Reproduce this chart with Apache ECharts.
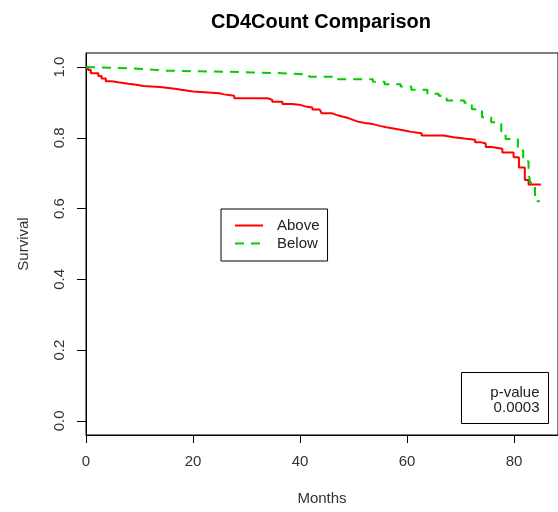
<!DOCTYPE html>
<html>
<head>
<meta charset="utf-8">
<script src="https://cdn.jsdelivr.net/npm/echarts@6/dist/echarts.min.js"></script>
<style>html,body{margin:0;padding:0;background:#fff}#c{width:558px;height:512px}</style>
</head>
<body>
<div id="c"></div>
<script>
const FONT = '"Liberation Sans", Arial, sans-serif';
const titleText = 'CD4Count Comparison';
const seriesNames = ['Above', 'Below'];
const xTicks = [0, 20, 40, 60, 80];
const yTicks = [0, 0.2, 0.4, 0.6, 0.8, 1.0];
const pValueText = ['p-value', '0.0003'];

const timesAbove = [0, 0.4, 0.9, 2.3, 2.9, 3.7, 4.8, 6.0, 7.9, 9.4, 10.7, 13.8, 16.6, 17.8, 20.0, 24.9, 25.8, 27.7, 33.9, 34.8, 36.7, 38.5, 39.8, 41.0, 42.3, 43.7, 44.0, 45.9, 46.8, 47.7, 49.0, 49.9, 50.8, 52.1, 53.6, 54.9, 56.1, 57.7, 59.5, 60.8, 62.7, 66.8, 68.7, 70.7, 72.7, 73.7, 74.7, 75.8, 77.8, 79.9, 80.9, 82.0, 82.7, 85.0];
const survAbove  = [1.0, 0.992, 0.983, 0.975, 0.968, 0.960, 0.957, 0.953, 0.950, 0.947, 0.944, 0.939, 0.936, 0.931, 0.926, 0.923, 0.919, 0.912, 0.908, 0.902, 0.896, 0.894, 0.889, 0.886, 0.880, 0.875, 0.870, 0.865, 0.861, 0.856, 0.851, 0.846, 0.842, 0.839, 0.834, 0.830, 0.826, 0.821, 0.817, 0.813, 0.807, 0.802, 0.798, 0.795, 0.788, 0.784, 0.774, 0.769, 0.759, 0.745, 0.716, 0.681, 0.668, 0.668];

const timesBelow = [0, 1.5, 9.0, 12.5, 14.5, 26.4, 31.0, 36.6, 41.7, 46.0, 53.6, 55.8, 58.8, 60.8, 63.8, 65.9, 67.4, 70.7, 72.1, 74.0, 75.7, 77.6, 78.4, 80.7, 81.7, 82.7, 83.0, 83.9, 84.8];
const survBelow  = [1.0, 0.996, 0.993, 0.990, 0.987, 0.985, 0.983, 0.979, 0.973, 0.966, 0.959, 0.952, 0.945, 0.936, 0.925, 0.919, 0.906, 0.899, 0.881, 0.858, 0.844, 0.818, 0.797, 0.764, 0.734, 0.705, 0.673, 0.621, 0.621];

const chart = echarts.init(document.getElementById('c'), null, {renderer: 'canvas'});
const axisTextColor = '#333';
chart.setOption({
  animation: false,
  backgroundColor: '#fff',
  title: {
    text: titleText, left: 316, top: 7, textAlign: 'center',
    textStyle: {fontFamily: FONT, fontWeight: 'bold', fontSize: 20, color: '#000'}
  },
  grid: {left: 86, top: 53, right: -1, bottom: 77, show: true, borderColor: '#000', borderWidth: 1, containLabel: false},
  legend: {
    orient: 'vertical', left: 221, top: 209,
    padding: [9, 8, 10, 13], itemWidth: 28, itemHeight: 14, itemGap: 3,
    borderColor: '#000', borderWidth: 1, backgroundColor: '#fff',
    itemStyle: {opacity: 0},
    textStyle: {fontFamily: FONT, fontSize: 15, color: '#222', padding: [0, 0, 0, 9]},
    data: seriesNames
  },
  xAxis: {
    type: 'value', min: 0, max: 88.2,
    name: 'Months', nameLocation: 'middle', nameGap: 56,
    nameTextStyle: {fontFamily: FONT, fontSize: 15, color: axisTextColor},
    axisLine: {show: true, onZero: false, lineStyle: {color: '#000', width: 1}},
    axisTick: {show: true, inside: false, length: 8, customValues: xTicks, lineStyle: {color: '#000'}},
    axisLabel: {customValues: xTicks, margin: 19, fontFamily: FONT, fontSize: 15, color: axisTextColor},
    splitLine: {show: false}
  },
  yAxis: {
    type: 'value', min: -0.04, max: 1.04,
    name: 'Survival', nameLocation: 'middle', nameGap: 55,
    nameTextStyle: {fontFamily: FONT, fontSize: 15, color: axisTextColor},
    axisLine: {show: true, onZero: false, lineStyle: {color: '#000', width: 1}},
    axisTick: {show: true, inside: false, length: 9, customValues: yTicks, lineStyle: {color: '#000'}},
    axisLabel: {customValues: yTicks, rotate: 90, margin: 19, fontFamily: FONT, fontSize: 15, color: axisTextColor,
      formatter: v => v.toFixed(1)},
    splitLine: {show: false}
  },
  series: [
    {name: seriesNames[0], type: 'line', step: 'end', symbol: 'none',
     data: timesAbove.map((t, i) => [t, survAbove[i]]),
     lineStyle: {color: '#ff0000', width: 2}, itemStyle: {color: '#ff0000'}},
    {name: seriesNames[1], type: 'line', step: 'end', symbol: 'none',
     data: timesBelow.map((t, i) => [t, survBelow[i]]),
     lineStyle: {color: '#00cc00', width: 2, type: [9, 7]}, itemStyle: {color: '#00cc00'}}
  ],
  graphic: [
    {type: 'rect', shape: {x: 461.5, y: 372.5, width: 87, height: 51},
     style: {fill: '#fff', stroke: '#000', lineWidth: 1}, z: 10},
    {type: 'text', x: 539.5, y: 400.5, z: 11,
     style: {text: pValueText.join('\n'), fontFamily: FONT, fontSize: 15, lineHeight: 15,
       fill: '#222', align: 'right', verticalAlign: 'middle'}}
  ]
});
</script>
</body>
</html>
